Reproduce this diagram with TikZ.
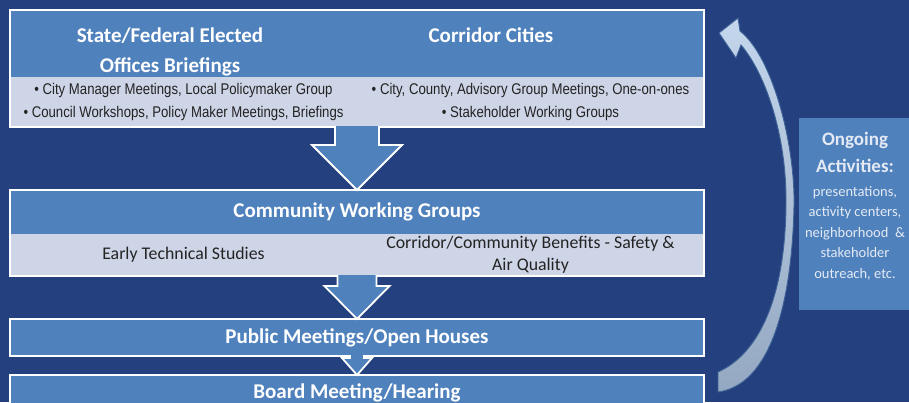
\documentclass[tikz,border=0pt]{standalone}
\usepackage{fontspec}
\setmainfont{Carlito}
\newfontfamily\narrowfont[FakeStretch=0.85]{Liberation Sans}
\usetikzlibrary{calc}

\definecolor{bgnavy}{RGB}{36,64,126}
\definecolor{boxblue}{RGB}{79,129,189}
\definecolor{bandblue}{RGB}{205,213,231}
\definecolor{bandtext}{RGB}{35,35,35}
\definecolor{paletext}{RGB}{228,234,244}
\definecolor{loopedge}{RGB}{60,98,150}
\definecolor{looptop}{RGB}{196,214,236}
\definecolor{loopbottom}{RGB}{148,168,194}

% block arrow from the foot of #1 down to the top of #2
% #3 shaft half width, #4 head half width, #5 head length
\newcommand{\blockdown}[5]{%
  \draw[flowarrow] ($(#2.north |- #1.south)+(-#3,-1)$) -- ($(#2.north)+(-#3,-#5)$)
    -- ($(#2.north)+(-#4,-#5)$) -- (#2.north) -- ($(#2.north)+(#4,-#5)$)
    -- ($(#2.north)+(#3,-#5)$) -- ($(#2.north |- #1.south)+(#3,-1)$);}

\tikzset{
  header/.style={fill=boxblue, text=white, inner sep=0pt, outer sep=0pt, anchor=north west,
    font=\fontsize{21}{30}\selectfont\bfseries, align=center},
  band/.style={fill=bandblue, text=bandtext, inner sep=0pt, outer sep=0pt, anchor=north west,
    align=center, minimum width=347pt},
  bullets/.style={font=\narrowfont\fontsize{15.5}{23.5}\selectfont},
  studytext/.style={font=\fontsize{17.8}{22}\selectfont},
  frame/.style={draw=white, line width=1.8pt},
  flowarrow/.style={fill=boxblue, draw=white, line width=1.8pt, line join=miter},
}

\begin{document}
\begin{tikzpicture}[x=1pt,y=-1pt]
\useasboundingbox[fill=bgnavy] (0,0) rectangle (909,402);

% top block
\node[header, minimum width=347pt, minimum height=67pt] (elected) at (10,10) {};
\node[header, minimum width=347pt, minimum height=67pt] (cities) at (elected.north east) {};
\node[text=white, font=\fontsize{21}{30}\selectfont\bfseries, align=center] (electedtitle) at (170,52) {State/Federal Elected\\Offices Briefings};
\node[text=white, font=\fontsize{21}{30}\selectfont\bfseries, anchor=base] (citiestitle) at (491,42) {Corridor Cities};
\node[band, bullets, minimum height=50pt] (electedsub) at (elected.south west) {\textbullet{} City Manager Meetings, Local Policymaker Group\\\textbullet{} Council Workshops, Policy Maker Meetings, Briefings};
\node[band, bullets, minimum height=50pt] (citiessub) at (cities.south west) {\textbullet{} City, County, Advisory Group Meetings, One-on-ones\\\textbullet{} Stakeholder Working Groups};
\draw[frame] (elected.north west) rectangle (citiessub.south east);

% community block
\node[header, minimum width=694pt, minimum height=44pt] (community) at (10,190) {Community Working Groups};
\node[band, studytext, minimum height=42pt] (studies) at (community.south west) {Early Technical Studies};
\node[band, studytext, minimum height=42pt] (benefits) at (studies.north east) {Corridor/Community Benefits - Safety \&\\Air Quality};
\draw[frame] (community.north west) rectangle (benefits.south east);

% public meetings and board
\node[header, frame, minimum width=694pt, minimum height=37pt] (public) at (10,319) {Public Meetings/Open Houses};
\node[header, frame, minimum width=694pt, minimum height=35pt] (board) at (10,375) {Board Meeting/Hearing};

% arrows between the blocks
\blockdown{electedsub}{community}{22}{45}{45}
\blockdown{studies}{public}{19.5}{32.5}{33}
\blockdown{public}{board}{7}{15}{17}

% ongoing activities
\node[fill=boxblue, inner sep=0pt, outer sep=0pt, anchor=north west, minimum width=115pt, minimum height=192pt] (ongoing) at (799,118) {};
\node[text=paletext, font=\fontsize{19}{27}\selectfont\bfseries, align=center] (ongoinghead) at (855,152) {Ongoing\\Activities:};
\node[text=paletext, font=\fontsize{14.5}{20.5}\selectfont, align=center] (ongoingbody) at (855,233) {presentations,\\activity centers,\\neighborhood~~\&\\stakeholder\\outreach, etc.};

% curved loop arrow back to the top
\coordinate (looptip) at ($(cities.north east)+(15,23)$);
\coordinate (loopfoot) at ($(board.north east)+(14,17)$);
\shadedraw[top color=looptop, bottom color=loopbottom, draw=loopedge, line width=0.9pt, line join=miter]
  (looptip) -- ++(19,-15) -- ++(2,13)
  .. controls ($(looptip)+(54,24)$) and ($(looptip)+(76,112)$) .. ($(looptip)+(75,172)$)
  .. controls ($(loopfoot)+(74,-87)$) and ($(loopfoot)+(52,-7)$) .. (loopfoot)
  -- ++(0,-20)
  .. controls ($(loopfoot)+(40,-38)$) and ($(loopfoot)+(67,-92)$) .. ($(loopfoot)+(68,-187)$)
  .. controls ($(looptip)+(68,102)$) and ($(looptip)+(46,40)$) .. ($(looptip)+(22,12)$)
  -- ($(looptip)+(17,25)$) -- cycle;
\end{tikzpicture}
\end{document}
